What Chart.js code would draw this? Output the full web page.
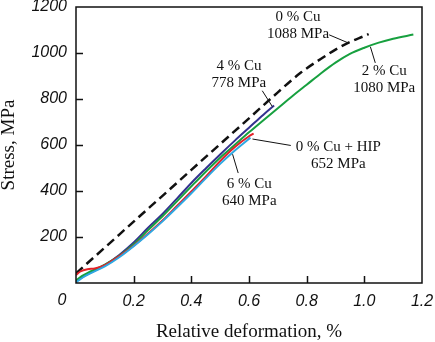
<!DOCTYPE html>
<html>
<head>
<meta charset="utf-8">
<script src="https://cdn.jsdelivr.net/npm/chart.js@4"></script>
<style>
  html, body { margin: 0; padding: 0; background: #fff; }
  canvas { display: block; }
</style>
</head>
<body>
<canvas id="chart" width="435" height="342"></canvas>
<script>
// Krzywe naprężenie - odkształcenie
const strain0Cu = [0, 0.1, 0.2, 0.3, 0.4, 0.5, 0.6, 0.7, 0.78, 0.85, 0.9, 0.95, 1.0, 1.015];
const stress0Cu = [42, 154, 267, 379, 492, 604, 716, 829, 915, 975, 1015, 1048, 1074, 1082];

const strain2Cu = [0, 0.02, 0.05, 0.1, 0.15, 0.2, 0.25, 0.3, 0.35, 0.4, 0.45, 0.5, 0.55, 0.6, 0.65, 0.7, 0.75, 0.8, 0.85, 0.9, 0.95, 1.0, 1.05, 1.1, 1.17];
const stress2Cu = [10, 30, 50, 80, 118, 168, 230, 290, 355, 420, 484, 545, 600, 655, 708, 760, 812, 862, 912, 958, 996, 1023, 1045, 1062, 1080];

const strain4Cu = [0, 0.01, 0.025, 0.05, 0.1, 0.15, 0.2, 0.25, 0.3, 0.35, 0.4, 0.45, 0.5, 0.55, 0.6, 0.65, 0.687];
const stress4Cu = [6, 14, 28, 45, 78, 122, 176, 240, 300, 367, 435, 498, 559, 618, 675, 732, 772];

const strainHip = [0, 0.015, 0.04, 0.065, 0.1, 0.15, 0.2, 0.25, 0.3, 0.35, 0.4, 0.45, 0.5, 0.55, 0.6, 0.616];
const stressHip = [35, 50, 60, 63, 78, 117, 162, 215, 272, 335, 398, 462, 530, 590, 638, 650];

const strain6Cu = [0, 0.01, 0.025, 0.05, 0.1, 0.15, 0.2, 0.25, 0.3, 0.35, 0.4, 0.45, 0.5, 0.55, 0.605];
const stress6Cu = [3, 12, 25, 42, 72, 112, 160, 212, 268, 328, 390, 455, 518, 575, 632];

// Podpisy krzywych: tekst, pozycja (w jednostkach osi) i linia odnośnika
const labels = [
  { lines: ['0 % Cu', '1088 MPa'], x: 0.77, y: 1120, from: [0.878, 1079], to: [0.944, 1044] },
  { lines: ['4 % Cu', '778 MPa'], x: 0.565, y: 907, from: [0.646, 836], to: [0.681, 767] },
  { lines: ['2 % Cu', '1080 MPa'], x: 1.069, y: 886, from: [1.038, 957], to: [1.021, 1027] },
  { lines: ['0 % Cu + HIP', '652 MPa'], x: 0.91, y: 554, from: [0.745, 598], to: [0.612, 626] },
  { lines: ['6 % Cu', '640 MPa'], x: 0.601, y: 394, from: [0.543, 560], to: [0.5625, 478] }
];

const xTicks = [0.2, 0.4, 0.6, 0.8, 1.0];
const yTicks = [200, 400, 600, 800, 1000];

function toPoints(xs, ys) {
  return xs.map((x, i) => ({ x: x, y: ys[i] }));
}

function series(label, xs, ys, color, width, dash) {
  return {
    label: label,
    data: toPoints(xs, ys),
    showLine: true,
    borderColor: color,
    backgroundColor: color,
    borderWidth: width,
    borderDash: dash || [],
    pointRadius: 0,
    cubicInterpolationMode: 'monotone',
    fill: false
  };
}

// Ramka, wewnętrzne kreski podziałki i podpisy
const decorations = {
  id: 'decorations',
  afterDatasetsDraw(chart) {
    const ctx = chart.ctx;
    const area = chart.chartArea;
    const xs = chart.scales.x;
    const ys = chart.scales.y;
    ctx.save();

    ctx.strokeStyle = '#111';
    ctx.lineWidth = 1.5;
    ctx.strokeRect(area.left, area.top, area.right - area.left, area.bottom - area.top);

    ctx.beginPath();
    yTicks.forEach(v => {
      const py = Math.round(ys.getPixelForValue(v)) + 0.5;
      ctx.moveTo(area.left, py);
      ctx.lineTo(area.left + 7, py);
    });
    xTicks.forEach(v => {
      const px = Math.round(xs.getPixelForValue(v)) + 0.5;
      ctx.moveTo(px, area.bottom);
      ctx.lineTo(px, area.bottom - 7);
    });
    ctx.stroke();

    // wspólne "0" w rogu
    ctx.fillStyle = '#111';
    ctx.font = 'italic 16px "Liberation Sans", Arial, sans-serif';
    ctx.textAlign = 'center';
    ctx.textBaseline = 'middle';
    ctx.fillText('0', area.left - 14, area.bottom + 18);

    // odnośniki
    ctx.lineWidth = 1;
    ctx.beginPath();
    labels.forEach(l => {
      ctx.moveTo(xs.getPixelForValue(l.from[0]), ys.getPixelForValue(l.from[1]));
      ctx.lineTo(xs.getPixelForValue(l.to[0]), ys.getPixelForValue(l.to[1]));
    });
    ctx.stroke();

    ctx.font = '15px "Liberation Serif", "Times New Roman", serif';
    labels.forEach(l => {
      const cx = xs.getPixelForValue(l.x);
      const cy = ys.getPixelForValue(l.y);
      ctx.fillText(l.lines[0], cx, cy - 8.5);
      ctx.fillText(l.lines[1], cx, cy + 8.5);
    });

    ctx.restore();
  }
};

new Chart(document.getElementById('chart').getContext('2d'), {
  type: 'scatter',
  data: {
    datasets: [
      series('6 % Cu', strain6Cu, stress6Cu, '#2ea8e2', 2),
      series('0 % Cu + HIP', strainHip, stressHip, '#e32128', 2),
      series('2 % Cu', strain2Cu, stress2Cu, '#17a03f', 2),
      series('4 % Cu', strain4Cu, stress4Cu, '#34328f', 2),
      series('0 % Cu', strain0Cu, stress0Cu, '#111111', 2.5, [9, 5])
    ]
  },
  plugins: [decorations],
  options: {
    responsive: false,
    animation: false,
    devicePixelRatio: 1,
    layout: { padding: { top: 7, right: 13, left: 0, bottom: 0 } },
    plugins: {
      legend: { display: false },
      tooltip: { enabled: false }
    },
    scales: {
      x: {
        type: 'linear',
        min: 0,
        max: 1.2,
        grid: { display: false, drawTicks: false },
        border: { display: false },
        ticks: {
          stepSize: 0.2,
          padding: 9,
          maxRotation: 0,
          autoSkip: false,
          color: '#111',
          font: { family: '"Liberation Sans", Arial, sans-serif', size: 16, style: 'italic' },
          callback: v => (v === 0 ? '' : v.toFixed(1))
        },
        title: {
          display: true,
          text: 'Relative deformation, %',
          color: '#111',
          font: { family: '"Liberation Serif", "Times New Roman", serif', size: 19, lineHeight: 1 },
          padding: { top: 0, bottom: 0 }
        },
        afterFit: s => { s.height = 59; s.paddingLeft = 0; s.paddingRight = 0; }
      },
      y: {
        min: 0,
        max: 1200,
        grid: { display: false, drawTicks: false },
        border: { display: false },
        ticks: {
          stepSize: 200,
          padding: 9,
          color: '#111',
          font: { family: '"Liberation Sans", Arial, sans-serif', size: 16, style: 'italic' },
          callback: v => (v === 0 ? '' : v)
        },
        title: {
          display: true,
          text: 'Stress, MPa',
          color: '#111',
          font: { family: '"Liberation Serif", "Times New Roman", serif', size: 19, lineHeight: 1 },
          padding: { top: 0, bottom: 0 }
        },
        afterFit: s => { s.width = 76; s.paddingTop = 0; s.paddingBottom = 0; }
      }
    }
  }
});
</script>
</body>
</html>
